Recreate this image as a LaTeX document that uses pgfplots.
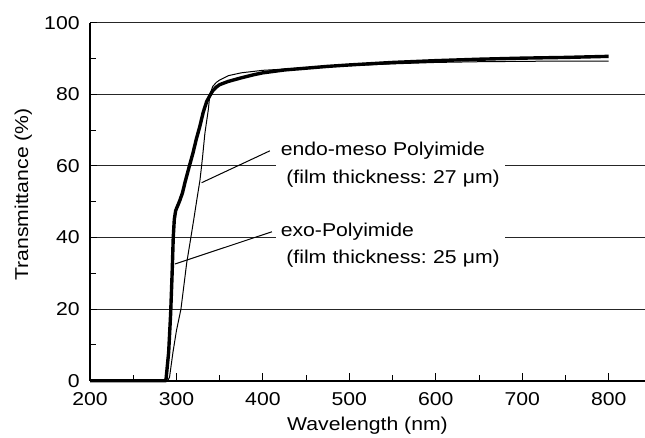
\documentclass[border=0pt]{standalone}
\usepackage{fontspec}
\setmainfont[FakeStretch=1.14]{Liberation Sans}
\usepackage{pgfplots}
\pgfplotsset{compat=1.18}
\frenchspacing

% exo-Polyimide (thick) and endo-meso Polyimide (thin)
\pgfplotstableread{
x y
200 0
287 0
288 0.5
291 8
293.3 18.8
295 30
296.3 40
297.5 45
299 47.4
300.2 48.2
302 49.2
304 50.4
307 52.5
310 55.5
315 60
319 63.5
323 67.5
327 71
331 75
335 78
338.6 79.6
342 81
346 82
350 82.7
360 83.6
375 84.6
390 85.5
400 86
425 86.8
450 87.3
475 87.8
500 88.2
550 88.9
600 89.4
650 89.8
700 90.1
750 90.3
800 90.6
}\exo

\pgfplotstableread{
x y
200 0
290 0
292 1
296 8
300 14
305.2 20
311.8 32.8
316 39
320 45
324 51.2
327.2 56
330 62
332.9 69.1
336.8 75.6
338.7 80
342 82.2
346 83.3
350 84
360 85.2
375 86
400 86.7
450 87.4
500 88
550 88.5
600 88.9
650 89.1
700 89.2
750 89.3
800 89.3
}\endo

\begin{document}
\fontsize{9.3bp}{11bp}\selectfont
\begin{tikzpicture}[font=\fontsize{9.3bp}{11bp}\selectfont\frenchspacing,
  lbl/.style={anchor=base west, fill=white, inner xsep=2.25bp, inner ysep=2.5bp,
    text width=110bp, align=left}]
\begin{axis}[
  scale only axis,
  width=277.5bp, height=179bp,
  xmin=200, xmax=842, ymin=0, ymax=100,
  axis x line=bottom, axis y line=left,
  axis line style={-, line width=1bp, black},
  xtick={200,300,...,800}, minor xtick={250,350,...,750},
  ytick={0,20,...,100}, minor ytick={10,30,...,90},
  tick align=inside,
  major tick length=3.7bp, minor tick length=2.8bp,
  tick style={black, line width=0.5bp},
  ymajorgrids,
  grid style={black!85, line width=0.5bp},
  /pgf/number format/assume math mode=true,
  xticklabel style={anchor=north, inner sep=0pt, yshift=-5.5bp},
  yticklabel style={anchor=east, inner sep=0pt, xshift=-5bp},
  xlabel={Wavelength (nm)},
  ylabel={Transmittance (\%)},
  xlabel style={at={(rel axis cs:0.5,0)}, anchor=center, yshift=-22.6bp},
  ylabel style={at={([xshift=-33.4bp]rel axis cs:0,0.52)}, anchor=center},
  clip=false,
]
\addplot[black, line width=0.5bp] table {\endo};
\addplot[black, line width=1.7bp] table {\exo};

\node[lbl] at (axis cs:415,62.8) {\mbox{endo-meso Polyimide}};
\node[lbl] at (axis cs:415,55.1) {\mbox{\kern2.8bp(film thickness: 27 μm)}};
\node[lbl] at (axis cs:415,40.4) {\mbox{exo-Polyimide}};
\node[lbl] at (axis cs:415,32.8) {\mbox{\kern2.8bp(film thickness: 25 μm)}};

\draw[black, line width=0.5bp] (axis cs:408,64.2) -- (axis cs:329.1,55.3);
\draw[black, line width=0.5bp] (axis cs:410.4,41.6) -- (axis cs:298.3,32.6);

\coordinate (SW) at (rel axis cs:0,0);
\coordinate (NE) at (rel axis cs:1,1);
\end{axis}
\pgfresetboundingbox
\path ([shift={(-45bp,-28.65bp)}]SW) rectangle ([shift={(0bp,11.35bp)}]NE);
\end{tikzpicture}
\end{document}
